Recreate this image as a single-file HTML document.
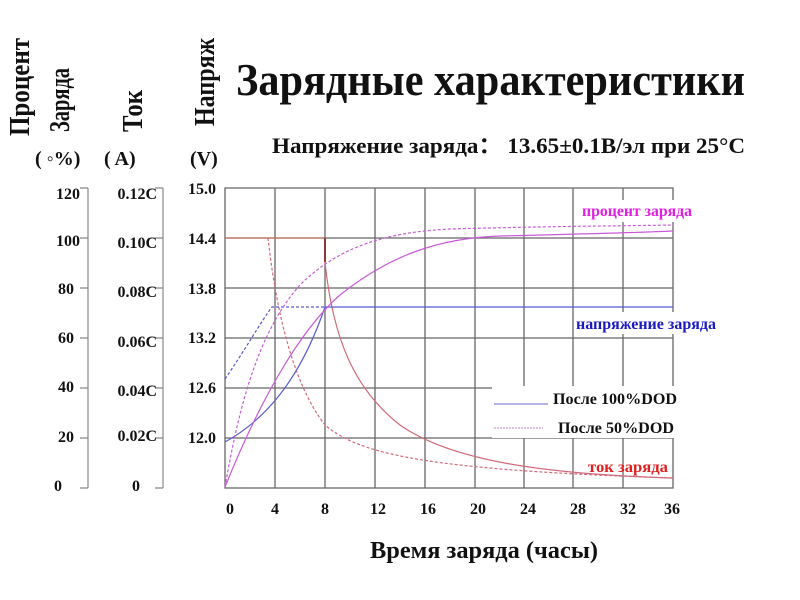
<!DOCTYPE html>
<html><head><meta charset="utf-8"><style>
html,body{margin:0;padding:0;background:#fff;}
svg{display:block;}
text{font-family:"Liberation Serif",serif;font-weight:bold;fill:#111;}
</style></head><body>
<svg width="800" height="600" viewBox="0 0 800 600" xmlns="http://www.w3.org/2000/svg">
<rect width="800" height="600" fill="#fff"/>
<g font-size="29">
<text transform="translate(29,136) rotate(-90)" textLength="98" lengthAdjust="spacingAndGlyphs">Процент</text>
<text transform="translate(69,132) rotate(-90)" textLength="64" lengthAdjust="spacingAndGlyphs">Заряда</text>
<text transform="translate(142,132) rotate(-90)" textLength="42" lengthAdjust="spacingAndGlyphs">Ток</text>
<text transform="translate(214,126) rotate(-90)" textLength="88" lengthAdjust="spacingAndGlyphs">Напряж</text>
</g>
<g font-size="20">
<text x="35" y="165">( ◦%)</text>
<text x="104" y="165">(  A)</text>
<text x="190" y="165">(V)</text>
</g>
<text x="236" y="95" font-size="46" textLength="509" lengthAdjust="spacingAndGlyphs">Зарядные характеристики</text>
<text x="272" y="153" font-size="22" textLength="473" lengthAdjust="spacingAndGlyphs">Напряжение заряда： 13.65±0.1В/эл при 25°C</text>
<g stroke="#888" stroke-width="1.2" fill="none">
<path d="M88,188V488M80,188H88M80,238H88M80,288H88M80,338H88M80,388H88M80,438H88M80,488H88"/>
<path d="M163,188V488M155,188H163M155,238H163M155,288H163M155,338H163M155,388H163M155,438H163M155,488H163"/>
</g>
<g font-size="16" text-anchor="end">
<text x="80" y="199">120</text>
<text x="80" y="246">100</text>
<text x="74" y="294">80</text>
<text x="74" y="343">60</text>
<text x="74" y="392">40</text>
<text x="74" y="442">20</text>
<text x="62" y="491">0</text>
<text x="157" y="199">0.12C</text>
<text x="157" y="248">0.10C</text>
<text x="157" y="297">0.08C</text>
<text x="157" y="347">0.06C</text>
<text x="157" y="396">0.04C</text>
<text x="157" y="441">0.02C</text>
<text x="140" y="491">0</text>
<text x="216" y="194">15.0</text>
<text x="216" y="244">14.4</text>
<text x="216" y="294">13.8</text>
<text x="216" y="343">13.2</text>
<text x="216" y="393">12.6</text>
<text x="216" y="443">12.0</text>
</g>
<g stroke="#666" stroke-width="1.3" fill="none">
<path d="M225,188H673V488H225Z"/>
<path d="M275,188V488M325,188V488M375,188V488M425,188V488M475,188V488M524,188V488M573,188V488M623,188V488"/>
<path d="M225,238H673M225,288H673M225,338H673M225,388H673M225,438H673"/>
</g>
<g fill="none" stroke-width="1.2">
<path d="M225,238H325" stroke="#c9705a"/>
<path d="M325,238V262" stroke="#8a3a3a" stroke-width="2"/>
<path d="M325,262 C333,340 355,390 400,425 C450,460 540,474 673,478" stroke="#d06a7a"/>
<path d="M268,238 C275,300 290,380 325,425 C360,455 430,470 673,478" stroke="#d06a7a" stroke-dasharray="3,2"/>
<path d="M225,442 C265,420 300,380 325,307 H673" stroke="#5a5ad0"/>
<path d="M225,379 C245,350 262,320 272,307 H325" stroke="#5a5ad0" stroke-dasharray="3,2"/>
<path d="M225,487 C260,400 300,330 340,295 C390,255 440,238 500,236 C580,234 630,233 673,231" stroke="#c85ad8"/>
<path d="M225,487 C240,400 260,330 300,285 C340,245 390,232 450,229 C560,226 620,226 673,225" stroke="#c85ad8" stroke-dasharray="3,2"/>
</g>
<rect x="578" y="200" width="120" height="22" fill="#fff"/>
<text x="582" y="216" font-size="16" style="fill:#e020e0" textLength="110" lengthAdjust="spacingAndGlyphs">процент заряда</text>
<rect x="574" y="312" width="145" height="22" fill="#fff"/>
<text x="576" y="329" font-size="16" style="fill:#1a1ac0" textLength="140" lengthAdjust="spacingAndGlyphs">напряжение заряда</text>
<rect x="492" y="386" width="182" height="52" fill="#fff"/>
<path d="M494,404H548" stroke="#6a6ad0" stroke-width="1"/>
<path d="M494,428H543" stroke="#c080c0" stroke-width="1" stroke-dasharray="2,1"/>
<text x="553" y="404" font-size="16" textLength="124" lengthAdjust="spacingAndGlyphs">После 100%DOD</text>
<text x="558" y="433" font-size="16" textLength="116" lengthAdjust="spacingAndGlyphs">После 50%DOD</text>
<text x="588" y="472" font-size="16" style="fill:#e02020" textLength="80" lengthAdjust="spacingAndGlyphs">ток заряда</text>
<g font-size="16" text-anchor="middle">
<text x="230" y="514">0</text>
<text x="275" y="514">4</text>
<text x="325" y="514">8</text>
<text x="378" y="514">12</text>
<text x="428" y="514">16</text>
<text x="478" y="514">20</text>
<text x="528" y="514">24</text>
<text x="578" y="514">28</text>
<text x="628" y="514">32</text>
<text x="672" y="514">36</text>
</g>
<text x="370" y="558" font-size="24" textLength="228" lengthAdjust="spacingAndGlyphs">Время заряда (часы)</text>
</svg>
</body></html>
